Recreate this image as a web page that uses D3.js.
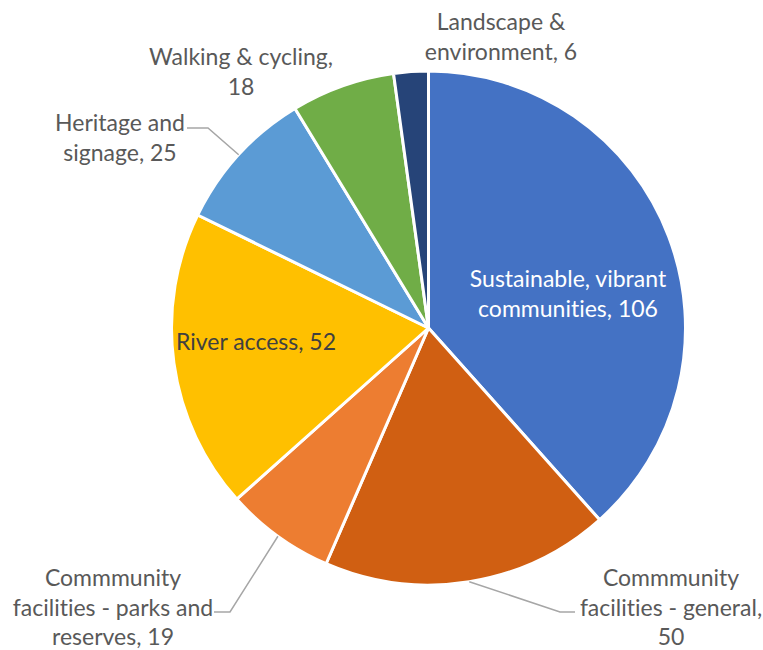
<!DOCTYPE html>
<html lang="en">
<head>
	<meta charset="UTF-8">
	<title>Pie</title>
	<script src="https://cdn.jsdelivr.net/npm/d3@7"></script>
	<style>
		body {
			margin: 0;
			background: #fff;
		}

		svg text {
			font-family: Lato, "Open Sans", sans-serif;
			font-size: 23px;
			font-variant-ligatures: none;
			fill: #595959;
		}

		.leader {
			fill: none;
			stroke: #a6a6a6;
			stroke-width: 1.5px;
		}
	</style>
</head>
<body>

<script>
	// categories and values, clockwise from 12 o'clock
	var categories = [
		"Sustainable, vibrant communities",
		"Commmunity facilities - general",
		"Commmunity facilities - parks and reserves",
		"River access",
		"Heritage and signage",
		"Walking & cycling",
		"Landscape & environment"
	];
	var values = [106, 50, 19, 52, 25, 18, 6];
	var colors = ["#4472c4", "#d05f12", "#ed7d31", "#ffc000", "#5b9bd5", "#70ad47", "#264478"];

	// label lines as shown in the chart (last line gets the value)
	var labelLines = [
		["Sustainable, vibrant", "communities, "],
		["Commmunity", "facilities - general,", ""],
		["Commmunity", "facilities - parks and", "reserves, "],
		["River access, "],
		["Heritage and", "signage, "],
		["Walking & cycling,", ""],
		["Landscape &", "environment, "]
	];

	// layout: label anchor (centre x, first baseline y) and leader elbows
	var labelLayout = [
		{x: 568, y: 287, color: "#ffffff"},
		{x: 671, y: 586},
		{x: 113, y: 586},
		{x: 256, y: 350, color: "#404040"},
		{x: 120, y: 131},
		{x: 241, y: 65},
		{x: 501, y: 30}
	];
	var leaders = {
		1: [[560, 612], [575, 612]],
		2: [[230, 612], [214, 612]],
		4: [[208, 128], [187, 128]]
	};

	var width = 763, height = 650;
	var cx = 428.5, cy = 328, radius = 257;
	var lineH = 29.5;

	var svg = d3.select("body").append("svg")
		.attr("width", width)
		.attr("height", height);

	var g = svg.append("g")
		.attr("transform", "translate(" + cx + "," + cy + ")");

	var data = categories.map(function (c, i) {
		return {name: c, value: values[i], i: i};
	});

	var pie = d3.pie()
		.value(function (d) { return d.value; })
		.sort(null);

	var arc = d3.arc()
		.innerRadius(0)
		.outerRadius(radius);

	var arcs = pie(data);

	g.selectAll("path.slice")
		.data(arcs)
		.enter().append("path")
		.attr("class", "slice")
		.attr("d", arc)
		.attr("fill", function (d) { return colors[d.data.i]; })
		.attr("stroke", "#fff")
		.attr("stroke-width", 3)
		.attr("stroke-linejoin", "round");

	// leader lines from the arc mid point to the label
	arcs.forEach(function (d) {
		var pts = leaders[d.data.i];
		if (!pts) return;
		var a = (d.startAngle + d.endAngle) / 2;
		var start = [cx + radius * Math.sin(a), cy - radius * Math.cos(a)];
		svg.append("path")
			.attr("class", "leader")
			.attr("d", d3.line()([start].concat(pts)));
	});

	// labels
	data.forEach(function (d, i) {
		var lay = labelLayout[i];
		var lines = labelLines[i].slice();
		lines[lines.length - 1] = lines[lines.length - 1] + d.value;
		var t = svg.append("text")
			.attr("text-anchor", "middle")
			.style("fill", lay.color || null);
		lines.forEach(function (l, k) {
			t.append("tspan")
				.attr("x", lay.x)
				.attr("y", lay.y + k * lineH)
				.text(l);
		});
	});
</script>

</body>
</html>
